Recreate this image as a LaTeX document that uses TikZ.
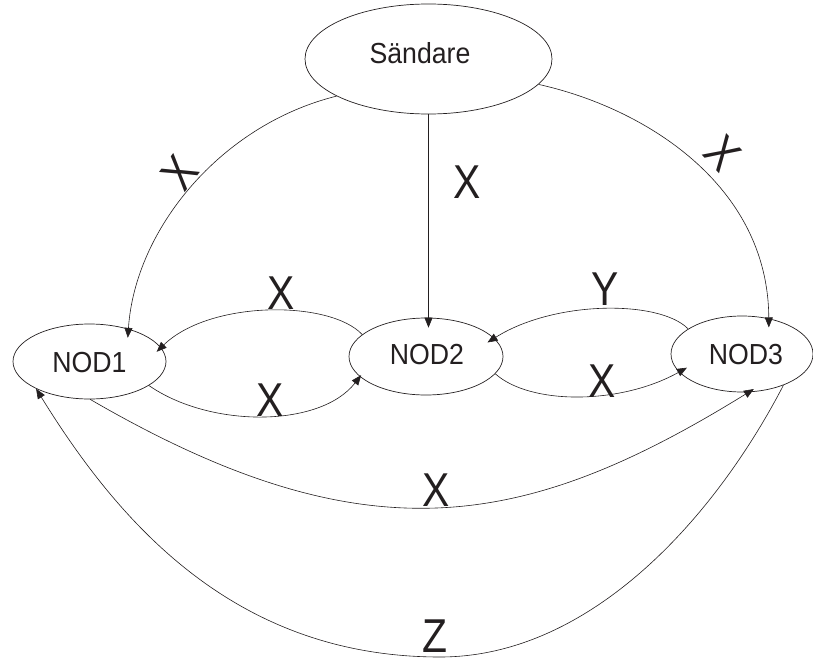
\documentclass[tikz,border=0pt]{standalone}
\usepackage{fontspec}
\setmainfont{Liberation Sans}
\newfontfamily\nodefnt[FakeStretch=0.92]{Liberation Sans}
\newfontfamily\labfnt[FakeStretch=0.86]{Liberation Sans}
\usetikzlibrary{arrows.meta,shapes.geometric}
\definecolor{ink}{HTML}{231F20}
\begin{document}
\begin{tikzpicture}[x=1pt,y=-1pt,
  ell/.style={draw=ink, ellipse, inner sep=0pt, line width=0.7pt},
  ntext/.style={text=ink, font=\nodefnt\fontsize{29}{30}\selectfont, inner sep=0pt},
  lab/.style={text=ink, font=\labfnt\fontsize{47.5}{48}\selectfont, inner sep=0pt},
  conn/.style={draw=ink, line width=0.6pt, -{Triangle[length=10pt,width=8pt]}},
]
\useasboundingbox (0,0) rectangle (813,658);
% nodes
\node[ell, minimum width=247pt, minimum height=110pt] (s) at (428.5,59) {};
\node[ntext] (st) at (420,53) {Sändare};
\node[ell, minimum width=153pt, minimum height=75pt] (n1) at (89.5,361.5) {};
\node[ntext] (n1t) at (89.5,362.5) {NOD1};
\node[ell, minimum width=154pt, minimum height=77pt] (n2) at (426,356.5) {};
\node[ntext] (n2t) at (427,355) {NOD2};
\node[ell, minimum width=142pt, minimum height=76pt] (n3) at (742,354) {};
\node[ntext] (n3t) at (746,355) {NOD3};
\coordinate (zb) at (440,657);
% connectors
\draw[conn, shorten >=-9pt] (s.202) .. controls (220,125) and (135,230) .. (n1.40);
\draw[conn, shorten >=-10pt] (s.south) -- (s.south |- n2.north);
\draw[conn, shorten >=-9pt] (s.347) .. controls (645,108) and (768,185) .. (n3.53);
\draw[conn, shorten >=-6pt] (n2.161) .. controls (330,300) and (210,300) .. (n1.11);
\draw[conn, shorten >=-2pt] (n1.338) .. controls (210,428) and (320,428) .. (n2.197);
\draw[conn, shorten >=-8pt] (n3.155) .. controls (660,300) and (555,300) .. (n2.15);
\draw[conn, shorten >=-9pt] (n2.346) .. controls (530,405) and (620,405) .. (n3.196);
\draw[conn, shorten >=-6pt] (n1.271) .. controls (365,559) and (524,531) .. (n3.280);
\draw[conn] (n3.323) .. controls (714,519) and (590,657) .. (zb) .. controls (235,657) and (119,523) .. (n1.207);
% labels
\node[lab, rotate=53] (l1) at (180,173) {X};
\node[lab] (l2) at (467,182) {X};
\node[lab, rotate=-47] (l3) at (723,153) {X};
\node[lab] (l4) at (281,293) {X};
\node[lab] (l5) at (270,400) {X};
\node[lab] (l6) at (605,289) {Y};
\node[lab] (l7) at (602,381) {X};
\node[lab] (l8) at (436,490) {X};
\node[lab] (l9) at (435,636) {Z};
\end{tikzpicture}
\end{document}
